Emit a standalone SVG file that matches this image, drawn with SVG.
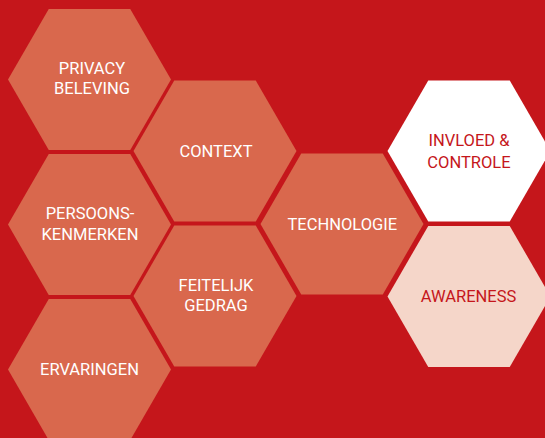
<svg xmlns="http://www.w3.org/2000/svg" xmlns:xlink="http://www.w3.org/1999/xlink" width="545" height="438" viewBox="0 0 545 438">
<style>
.hs{fill:#d9684d}
.hw{fill:#ffffff}
.hp{fill:#f5d6c9}
text{font-family:Roboto,"Liberation Sans",sans-serif;font-size:16.5px;text-anchor:middle}
.tw{fill:#ffffff}
.tr{fill:#c5161b}
</style>
<defs>
<polygon id="hex" points="-81.5,0 -40.75,-70.6 40.75,-70.6 81.5,0 40.75,70.6 -40.75,70.6"/>
</defs>
<rect width="545" height="438" fill="#c5161b"/>
<g id="connectors"/>
<g id="privacy">
<use xlink:href="#hex" href="#hex" class="hs" transform="translate(89.5,79.5)"/>
<text class="tw" x="92" y="74">PRIVACY</text>
<text class="tw" x="92" y="94.3">BELEVING</text>
</g>
<g id="persoons">
<use xlink:href="#hex" href="#hex" class="hs" transform="translate(89.5,224.5)"/>
<text class="tw" x="90" y="219">PERSOONS-</text>
<text class="tw" x="90" y="239.5">KENMERKEN</text>
</g>
<g id="ervaringen">
<use xlink:href="#hex" href="#hex" class="hs" transform="translate(89.5,369.5)"/>
<text class="tw" x="89.5" y="375">ERVARINGEN</text>
</g>
<g id="context">
<use xlink:href="#hex" href="#hex" class="hs" transform="translate(215,151)"/>
<text class="tw" x="216" y="157.3">CONTEXT</text>
</g>
<g id="feitelijk">
<use xlink:href="#hex" href="#hex" class="hs" transform="translate(215,296)"/>
<text class="tw" x="216" y="290.5">FEITELIJK</text>
<text class="tw" x="216" y="311">GEDRAG</text>
</g>
<g id="technologie">
<use xlink:href="#hex" href="#hex" class="hs" transform="translate(342,224)"/>
<text class="tw" x="342.3" y="230">TECHNOLOGIE</text>
</g>
<g id="invloed">
<use xlink:href="#hex" href="#hex" class="hw" transform="translate(469,151)"/>
<text class="tr" x="469" y="146">INVLOED &amp;</text>
<text class="tr" x="469" y="167.7">CONTROLE</text>
</g>
<g id="awareness">
<use xlink:href="#hex" href="#hex" class="hp" transform="translate(469,296.5)"/>
<text class="tr" x="468.5" y="302.3">AWARENESS</text>
</g>
</svg>
